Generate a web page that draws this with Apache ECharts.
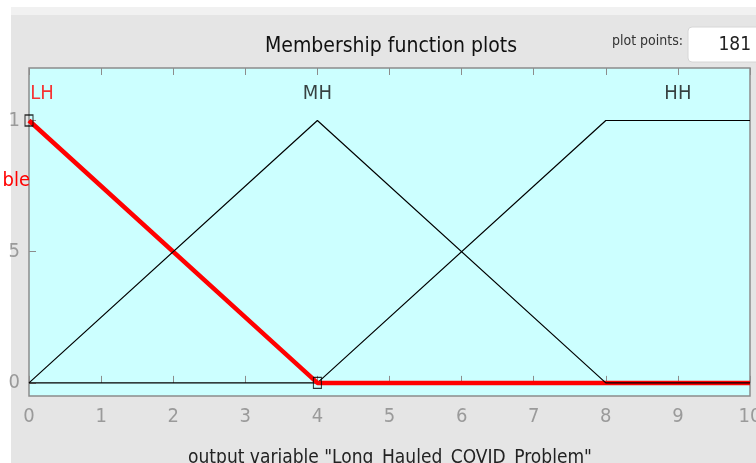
<!DOCTYPE html>
<html>
<head>
<meta charset="utf-8">
<script src="https://cdn.jsdelivr.net/npm/echarts@6/dist/echarts.min.js"></script>
<style>
html, body { margin: 0; padding: 0; background: #fff; }
#chart { width: 756px; height: 463px; }
</style>
</head>
<body>
<div id="chart"></div>
<script>
// membership functions of the output variable
var mfNames = ['LH', 'MH', 'HH'];
var mfLabelX = [0, 4, 9];
var lhX = [0, 4, 10];
var lhY = [1, 0, 0];
var mhX = [0, 4, 8, 10];
var mhY = [0, 1, 0, 0];
var hhX = [0, 4, 8, 10];
var hhY = [0, 0, 1, 1];
var yTicks = [0, 0.5, 1];
var yTickText = ['0', '5', '1']; // left part of "0.5" is cut off in the screenshot

var FONT = '"Liberation Sans Narrow", "DejaVu Sans Condensed", "Liberation Sans", sans-serif';

function pairs(xs, ys) {
    return xs.map(function (x, i) { return [x, ys[i]]; });
}

var myChart = echarts.init(document.getElementById('chart'));

var option = {
    animation: false,
    backgroundColor: '#fff',
    textStyle: { fontFamily: FONT },
    grid: {
        left: 29, right: 6, top: 68, bottom: 67,
        outerBoundsMode: 'none',
        containLabel: false,
        show: true,
        backgroundColor: '#ccffff',
        borderColor: '#8c8c8c',
        borderWidth: 1.5
    },
    xAxis: [{
        type: 'value', min: 0, max: 10, interval: 1,
        position: 'bottom',
        axisLine: { show: false },
        splitLine: { show: false },
        axisTick: { inside: true, length: 7, lineStyle: { color: '#8c8c8c' } },
        axisLabel: { color: '#9a9a9a', fontSize: 20, fontFamily: FONT, margin: 11, showMaxLabel: true }
    }, {
        type: 'value', min: 0, max: 10, interval: 1,
        position: 'top',
        axisLine: { show: false },
        splitLine: { show: false },
        axisTick: { inside: true, length: 7, lineStyle: { color: '#8c8c8c' } },
        axisLabel: { show: false }
    }],
    yAxis: {
        type: 'value', min: -0.05, max: 1.2,
        axisLine: { show: false },
        splitLine: { show: false },
        axisTick: { inside: true, length: 7, customValues: yTicks, lineStyle: { color: '#8c8c8c' } },
        axisLabel: {
            color: '#9a9a9a', fontSize: 20, fontFamily: FONT, margin: 9,
            customValues: yTicks,
            formatter: function (v) { return yTickText[yTicks.indexOf(v)]; }
        }
    },
    series: [{
        name: 'HH', type: 'line', data: pairs(hhX, hhY),
        showSymbol: false, lineStyle: { color: '#000', width: 1.2 }, z: 2
    }, {
        name: 'LH', type: 'line', data: pairs(lhX, lhY),
        showSymbol: false, lineStyle: { color: '#ff0000', width: 4.5 }, z: 3
    }, {
        name: 'MH', type: 'line', data: pairs(mhX, mhY),
        showSymbol: false, lineStyle: { color: '#000', width: 1.2 }, z: 4
    }, {
        name: 'vertices', type: 'scatter',
        data: pairs(lhX.slice(0, 2), lhY.slice(0, 2)),
        symbol: 'rect', symbolSize: [8, 11],
        itemStyle: { color: 'rgba(0,0,0,0)', borderColor: '#000', borderWidth: 1.2 },
        z: 5
    }, {
        name: 'names', type: 'scatter',
        data: mfNames.map(function (n, i) { return [mfLabelX[i], 1.1]; }),
        symbolSize: 0,
        label: {
            show: true,
            fontSize: 20, fontFamily: FONT,
            formatter: function (p) { return mfNames[p.dataIndex]; },
            position: 'inside'
        },
        labelLayout: function (p) {
            return p.dataIndex === 0 ? { dx: 13 } : {};
        },
        itemStyle: { color: 'transparent' },
        z: 6
    }],
    graphic: [{
        type: 'rect', z: -10, silent: true,
        shape: { x: 11, y: 7, width: 760, height: 8 },
        style: { fill: '#f1f1f1' }
    }, {
        type: 'rect', z: -10, silent: true,
        shape: { x: 11, y: 15, width: 760, height: 460 },
        style: { fill: '#e5e5e5' }
    }, {
        type: 'text', x: 391, y: 47,
        style: { text: 'Membership function plots', fontSize: 21, fontFamily: FONT, fill: '#111', align: 'center', verticalAlign: 'middle' }
    }, {
        type: 'text', x: 683, y: 41,
        style: { text: 'plot points:', fontSize: 14, fontFamily: FONT, fill: '#333', align: 'right', verticalAlign: 'middle' }
    }, {
        type: 'rect', shape: { x: 688, y: 27, width: 80, height: 35, r: 4 },
        style: { fill: '#fff', stroke: '#d6d6d6', lineWidth: 1 }
    }, {
        type: 'text', x: 751, y: 45,
        style: { text: '181', fontSize: 19, fontFamily: FONT, fill: '#222', align: 'right', verticalAlign: 'middle' }
    }, {
        type: 'text', x: 30, y: 181,
        style: { text: 'ble', fontSize: 20, fontFamily: FONT, fill: '#ff0000', align: 'right', verticalAlign: 'middle' }
    }, {
        type: 'text', x: 390, y: 449,
        style: { text: 'output variable "Long_Hauled_COVID_Problem"', fontSize: 19, fontFamily: FONT, fill: '#222', align: 'center', verticalAlign: 'top' }
    }]
};

// colour the selected function's label red
option.series[4].data = option.series[4].data.map(function (d, i) {
    return { value: d, label: { color: i === 0 ? '#ff0000' : '#111' } };
});

myChart.setOption(option);
</script>
</body>
</html>
